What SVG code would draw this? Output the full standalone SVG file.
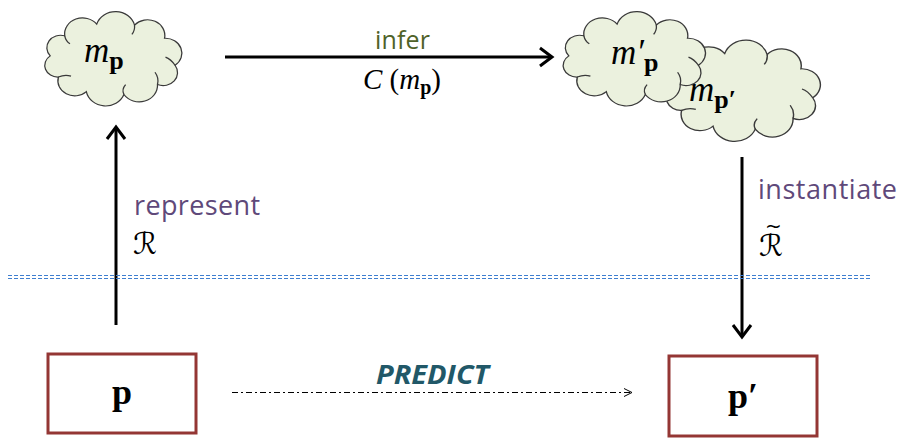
<svg xmlns="http://www.w3.org/2000/svg" width="900" height="442" viewBox="0 0 900 442">
<defs>
<style>
.cloud{fill:#ebf1de;stroke:#3a3a3a;stroke-width:1.2}
.curl{fill:none;stroke:#3a3a3a;stroke-width:1.2}
.box{fill:#fff;stroke:#943634;stroke-width:3}
.serif{font-family:"Liberation Serif","DejaVu Serif",serif}
.mi{font-style:italic}
.bold{font-weight:bold}
.arrow{stroke:#000;stroke-width:3;fill:none}
.sans{font-family:"Open Sans","Liberation Sans",sans-serif}
.script{font-family:"DejaVu Sans",sans-serif;font-style:italic}
</style>
<path id="cloudShape" d="M59.1,6.6 A13.7,13.7 0 0 1 42.4,26.9 A17.5,17.5 0 0 1 10.4,37.4 A18.7,18.7 0 0 1 -25.4,34.4 A16,16 0 0 1 -52,19 A12.3,12.3 0 0 1 -59.8,-3.3 A13.1,13.1 0 0 1 -46,-24.4 A17.1,17.1 0 0 1 -15.5,-36.7 A18.7,18.7 0 0 1 20.5,-35.7 A16.5,16.5 0 0 1 49.1,-21.8 A15.7,15.7 0 0 1 59.1,6.6 Z"/>
<path id="cloudCurl" d="M42.4,26.9 Q44,20 40,14 M10.4,37.4 Q8,32 12,27 M-52,19 Q-46,16 -40,18 M-46,-24.4 Q-45,-19 -41,-16 M20.5,-35.7 Q21,-30 18,-26 M59.1,6.6 Q55,0 50,-2"/>
</defs>
<g id="connectors">
<line class="arrow" x1="116" y1="325" x2="116" y2="127"/>
<polyline class="arrow" points="107,139 116,127 125,139"/>
<line class="arrow" x1="225" y1="57" x2="552" y2="57"/>
<polyline class="arrow" points="540,48 552,57 540,66"/>
<line class="arrow" x1="742" y1="157" x2="742" y2="337"/>
<polyline class="arrow" points="733,325 742,337 751,325"/>
<line x1="232" y1="392.5" x2="631" y2="392.5" stroke="#000" stroke-width="1" stroke-dasharray="6,3,2,3"/>
<polyline points="624,388.5 632,392.5 624,396.5" stroke="#000" stroke-width="1" fill="none"/>
</g>
<g id="divider" stroke="#3f7fd0" stroke-width="1" stroke-dasharray="4,2">
<line x1="8" y1="275.5" x2="870" y2="275.5"/>
<line x1="8" y1="278.5" x2="870" y2="278.5"/>
</g>
<g id="cloud-mp">
<g transform="translate(113,59) scale(1.05,0.95)">
<use href="#cloudShape" class="cloud"/>
<use href="#cloudCurl" class="curl"/>
</g>
<text class="serif" y="62"><tspan x="84" class="mi" font-size="35">m</tspan><tspan class="bold" font-size="26" dy="7">p</tspan></text>
</g>
<g id="cloud-mpprime">
<g transform="translate(743,91) scale(1.18,1.02)">
<use href="#cloudShape" class="cloud"/>
<use href="#cloudCurl" class="curl"/>
</g>
<text class="serif" y="101"><tspan x="689" class="mi" font-size="35">m</tspan><tspan class="bold" font-size="26" dy="7">p′</tspan></text>
</g>
<g id="cloud-mprime-p">
<g transform="translate(634,59) scale(1.09,0.95)">
<use href="#cloudShape" class="cloud"/>
<use href="#cloudCurl" class="curl"/>
</g>
<text class="serif" y="64"><tspan x="611" class="mi" font-size="35">m′</tspan><tspan class="bold" font-size="26" dy="7">p</tspan></text>
</g>
<g id="label-infer">
<text class="sans" x="375" y="49" font-size="25" fill="#4f6228" textLength="55">infer</text>
<text class="serif" y="89" font-size="29"><tspan x="363" class="mi">C</tspan><tspan> (</tspan><tspan class="mi">m</tspan><tspan class="bold" font-size="20" dy="5">p</tspan><tspan dy="-5">)</tspan></text>
</g>
<g id="label-represent">
<text class="sans" x="134" y="215" font-size="27" fill="#5f497a" textLength="126">represent</text>
<text class="script" x="133" y="254" font-size="30">ℛ</text>
</g>
<g id="label-instantiate">
<text class="sans" x="758" y="199" font-size="27" fill="#5f497a" textLength="139">instantiate</text>
<text class="script" y="256"><tspan x="759" font-size="30">ℛ</tspan><tspan x="765" y="233" font-size="20" font-style="normal">~</tspan></text>
</g>
<g id="node-p">
<rect class="box" x="48" y="354" width="148" height="79"/>
<text class="serif bold" x="122" y="404" font-size="36" text-anchor="middle">p</text>
</g>
<g id="node-pprime">
<rect class="box" x="669" y="356" width="148" height="80"/>
<text class="serif bold" x="743" y="408" font-size="36" text-anchor="middle">p′</text>
</g>
<g id="label-predict">
<text class="sans" x="376" y="384" font-size="26" font-weight="bold" font-style="italic" fill="#215868" textLength="113" lengthAdjust="spacingAndGlyphs">PREDICT</text>
</g>
</svg>
